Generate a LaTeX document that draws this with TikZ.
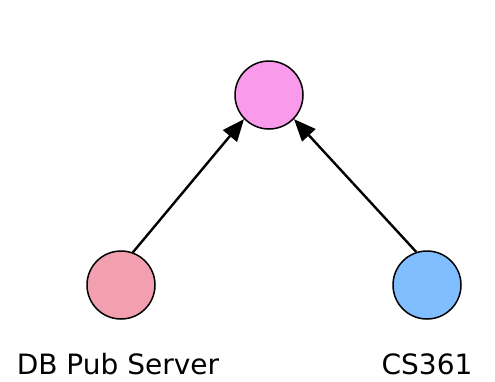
\documentclass[tikz,border=0pt]{standalone}
\usepackage{fontspec}
\setmainfont{DejaVu Sans}
\usetikzlibrary{arrows.meta}
\begin{document}
\begin{tikzpicture}[x=1pt,y=-1pt,
  peer/.style={circle,draw=black,line width=1.5pt,minimum size=68pt,inner sep=0pt},
  link/.style={line width=2.4pt,-{Triangle[length=22pt,width=18pt]}},
  caption/.style={font=\fontsize{28}{32}\selectfont,inner sep=0pt,anchor=base}]
  \useasboundingbox (0,0) rectangle (495,381);
  \node[peer,fill={rgb,255:red,250;green,154;blue,234}] (top) at (269,95) {};
  \node[peer,fill={rgb,255:red,242;green,160;blue,175}] (db) at (121,285) {};
  \node[peer,fill={rgb,255:red,128;green,190;blue,255}] (cs) at (427,285) {};
  \draw[link] (db.70) -- (top.224);
  \draw[link] (cs.108) -- (top.316);
  \node[caption] (dblabel) at (118,374) {DB Pub Server};
  \node[caption] (cslabel) at (427,374) {CS361};
\end{tikzpicture}
\end{document}
